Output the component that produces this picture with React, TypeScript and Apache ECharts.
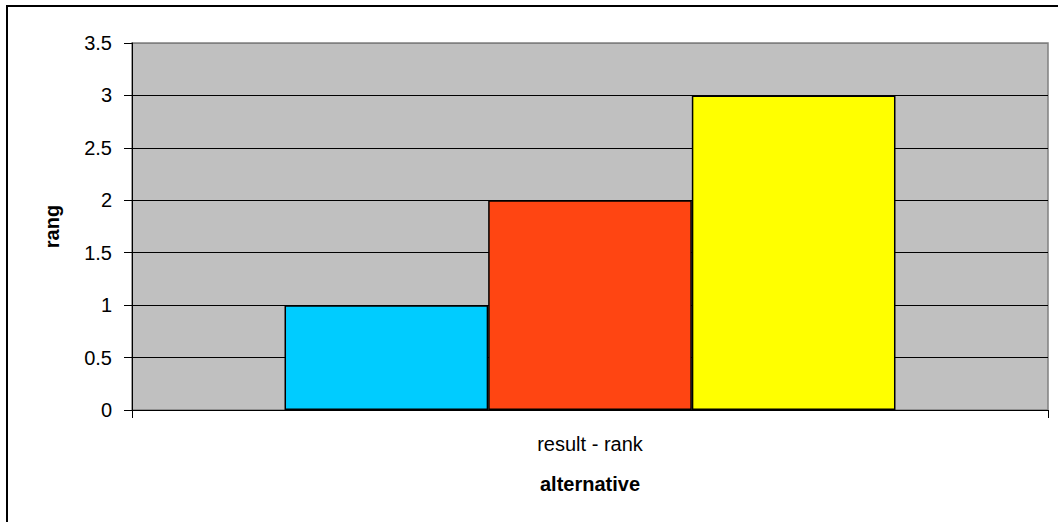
import React, { useEffect, useRef } from "react";
import * as echarts from "echarts";

const categories = ["result - rank"];
const seriesNames = ["A1", "A2", "A3"];
const seriesValues = [[1], [2], [3]];
const seriesColors = ["#00CCFF", "#FF4512", "#FFFF00"];
const yTicks = [0, 0.5, 1, 1.5, 2, 2.5, 3, 3.5];

const FONT = "Arial, 'Liberation Sans', sans-serif";

export default function App() {
  const ref = useRef<HTMLDivElement>(null);
  useEffect(() => {
    document.body.style.margin = "0";
    const chart = echarts.init(ref.current!, null, { renderer: "svg" });
    const splitColors = yTicks.map((t, i) => (i === yTicks.length - 1 ? "#808080" : "#000000"));
    chart.setOption({
      animation: false,
      backgroundColor: "#ffffff",
      textStyle: { fontFamily: FONT },
      graphic: [
        {
          type: "rect",
          shape: { x: 7, y: 6, width: 1200, height: 800 },
          style: { fill: "none", stroke: "#000", lineWidth: 2 },
          silent: true,
        },
      ],
      grid: {
        left: 132,
        top: 43,
        right: 10,
        bottom: 112,
        show: true,
        backgroundColor: "#C0C0C0",
        borderColor: "#808080",
        borderWidth: 1.5,
      },
      xAxis: {
        type: "category",
        data: categories,
        name: "alternative",
        nameLocation: "middle",
        nameGap: 64,
        nameTextStyle: { fontFamily: FONT, fontSize: 20, fontWeight: "bold", color: "#000" },
        axisLine: { lineStyle: { color: "#000", width: 1 } },
        axisTick: { show: true, length: 8, lineStyle: { color: "#000" } },
        axisLabel: { fontFamily: FONT, fontSize: 20, color: "#000", margin: 24 },
        splitLine: { show: false },
      },
      yAxis: {
        type: "value",
        min: 0,
        max: 3.5,
        interval: 0.5,
        name: "rang",
        nameLocation: "middle",
        nameRotate: 90,
        nameGap: 70,
        nameTextStyle: { fontFamily: FONT, fontSize: 20, fontWeight: "bold", color: "#000" },
        axisLine: { show: true, lineStyle: { color: "#000", width: 1 } },
        axisTick: { show: true, length: 8, lineStyle: { color: "#000" } },
        axisLabel: { fontFamily: FONT, fontSize: 20, color: "#000", margin: 20 },
        splitLine: { show: true, lineStyle: { color: splitColors, width: 1 } },
      },
      series: seriesNames.map((name, i) => ({
        name,
        type: "bar",
        data: seriesValues[i],
        barGap: "0%",
        barCategoryGap: "33.3%",
        itemStyle: { color: seriesColors[i], borderColor: "#000", borderWidth: 1.5 },
      })),
    });
    return () => chart.dispose();
  }, []);
  return <div ref={ref} style={{ width: 1058, height: 522 }} />;
}
